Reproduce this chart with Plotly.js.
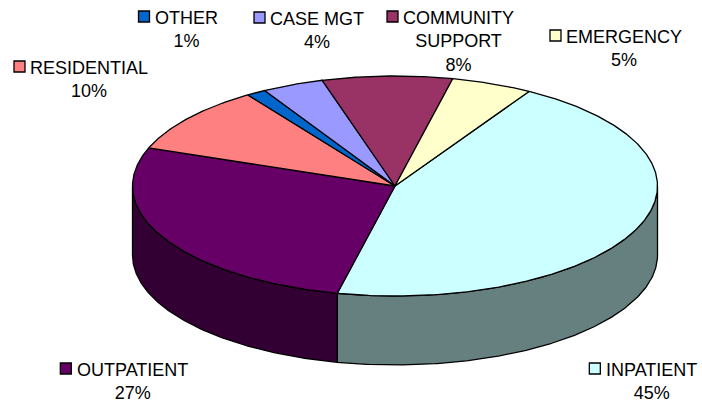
<!DOCTYPE html>
<html>
<head>
<meta charset="utf-8">
<script src="https://cdn.plot.ly/plotly-3.0.1.min.js"></script>
<style>html,body{margin:0;padding:0;background:#fff;}#chart{width:702px;height:403px;}</style>
</head>
<body>
<div id="chart"></div>
<script>
// ---- data ----
const categories = ['INPATIENT', 'OUTPATIENT', 'RESIDENTIAL', 'OTHER', 'CASE MGT', 'COMMUNITY SUPPORT', 'EMERGENCY'];
const values = [45.0, 27.1, 9.9, 1.2, 3.8, 8.0, 5.0];
const topColors = ['#CCFFFF', '#660066', '#FF8080', '#0066CC', '#9999FF', '#993366', '#FFFFCC'];
const sideColors = ['#668080', '#330033', '#804040', '#003366', '#4D4D80', '#4D1A33', '#808066'];

// ---- layout geometry (not data) ----
const cx = 395, cy = 186, rx = 262.5, ry = 110, depth = 69, startAngle = 30.7;
const labelPos = [[651, 362], [132, 362], [89, 60], [186, 10], [317, 11], [458.5, 10], [624, 29]];
const FONT = 'Liberation Sans, Arial, sans-serif';
const FS = 18;

function pt(theta, dy) {
  const r = theta * Math.PI / 180;
  return [cx + rx * Math.sin(r), cy - ry * Math.cos(r) + dy];
}
function arc(t1, t2, dy) {
  const pts = [];
  const n = Math.max(2, Math.ceil(Math.abs(t2 - t1) / 0.5));
  for (let i = 0; i <= n; i++) pts.push(pt(t1 + (t2 - t1) * i / n, dy));
  return pts;
}

const total = values.reduce((s, v) => s + v, 0);
const traces = [];
const sideTraces = [];
const topTraces = [];
let a0 = startAngle;
values.forEach((v, i) => {
  const span = v / total * 360;
  const a1 = a0 + span;
  // visible side: front half 90..270 (mod 360)
  for (let k = -1; k <= 1; k++) {
    const lo = Math.max(a0, 90 + 360 * k), hi = Math.min(a1, 270 + 360 * k);
    if (hi > lo) {
      const top = arc(lo, hi, 0), bot = arc(hi, lo, depth);
      const poly = top.concat(bot); poly.push(top[0]);
      sideTraces.push({
        type: 'scatter', mode: 'lines', fill: 'toself', fillcolor: sideColors[i],
        x: poly.map(p => p[0]), y: poly.map(p => p[1]),
        line: { color: '#000', width: 1.3 }, hoverinfo: 'skip'
      });
    }
  }
  const wedge = [[cx, cy]].concat(arc(a0, a1, 0)); wedge.push([cx, cy]);
  topTraces.push({
    type: 'scatter', mode: 'lines', fill: 'toself', fillcolor: topColors[i],
    x: wedge.map(p => p[0]), y: wedge.map(p => p[1]),
    line: { color: '#000', width: 1.3 }, hoverinfo: 'skip'
  });
  a0 = a1;
});
traces.push(...sideTraces, ...topTraces);

// labels
const ctx = document.createElement('canvas').getContext('2d');
ctx.font = FS + 'px ' + FONT;
const annotations = [];
const keyX = [], keyY = [];
categories.forEach((c, i) => {
  const lines = c.length > 12 ? c.split(' ') : [c];
  const pct = Math.round(values[i] / total * 100) + '%';
  const [lx, capTop] = labelPos[i];
  annotations.push({
    x: lx, y: capTop - 4.5, xref: 'x', yref: 'y', xanchor: 'center', yanchor: 'top',
    text: lines.concat([pct]).join('<br>'), showarrow: false, align: 'center',
    font: { family: FONT, size: FS, color: '#000' }
  });
  const w = ctx.measureText(lines[0]).width;
  keyX.push(lx - w / 2 - 10.5);
  keyY.push(capTop + 6.5);
});
traces.push({
  type: 'scatter', mode: 'markers', x: keyX, y: keyY,
  marker: { symbol: 'square', size: 11, color: topColors, line: { color: '#000', width: 1.3 } },
  hoverinfo: 'skip'
});

const layout = {
  width: 702, height: 403, margin: { l: 0, r: 0, t: 0, b: 0 },
  paper_bgcolor: '#fff', plot_bgcolor: '#fff', showlegend: false,
  xaxis: { range: [0, 702], visible: false, fixedrange: true },
  yaxis: { range: [403, 0], visible: false, fixedrange: true },
  annotations: annotations
};
Plotly.newPlot('chart', traces, layout, { staticPlot: true, displayModeBar: false });
</script>
</body>
</html>
